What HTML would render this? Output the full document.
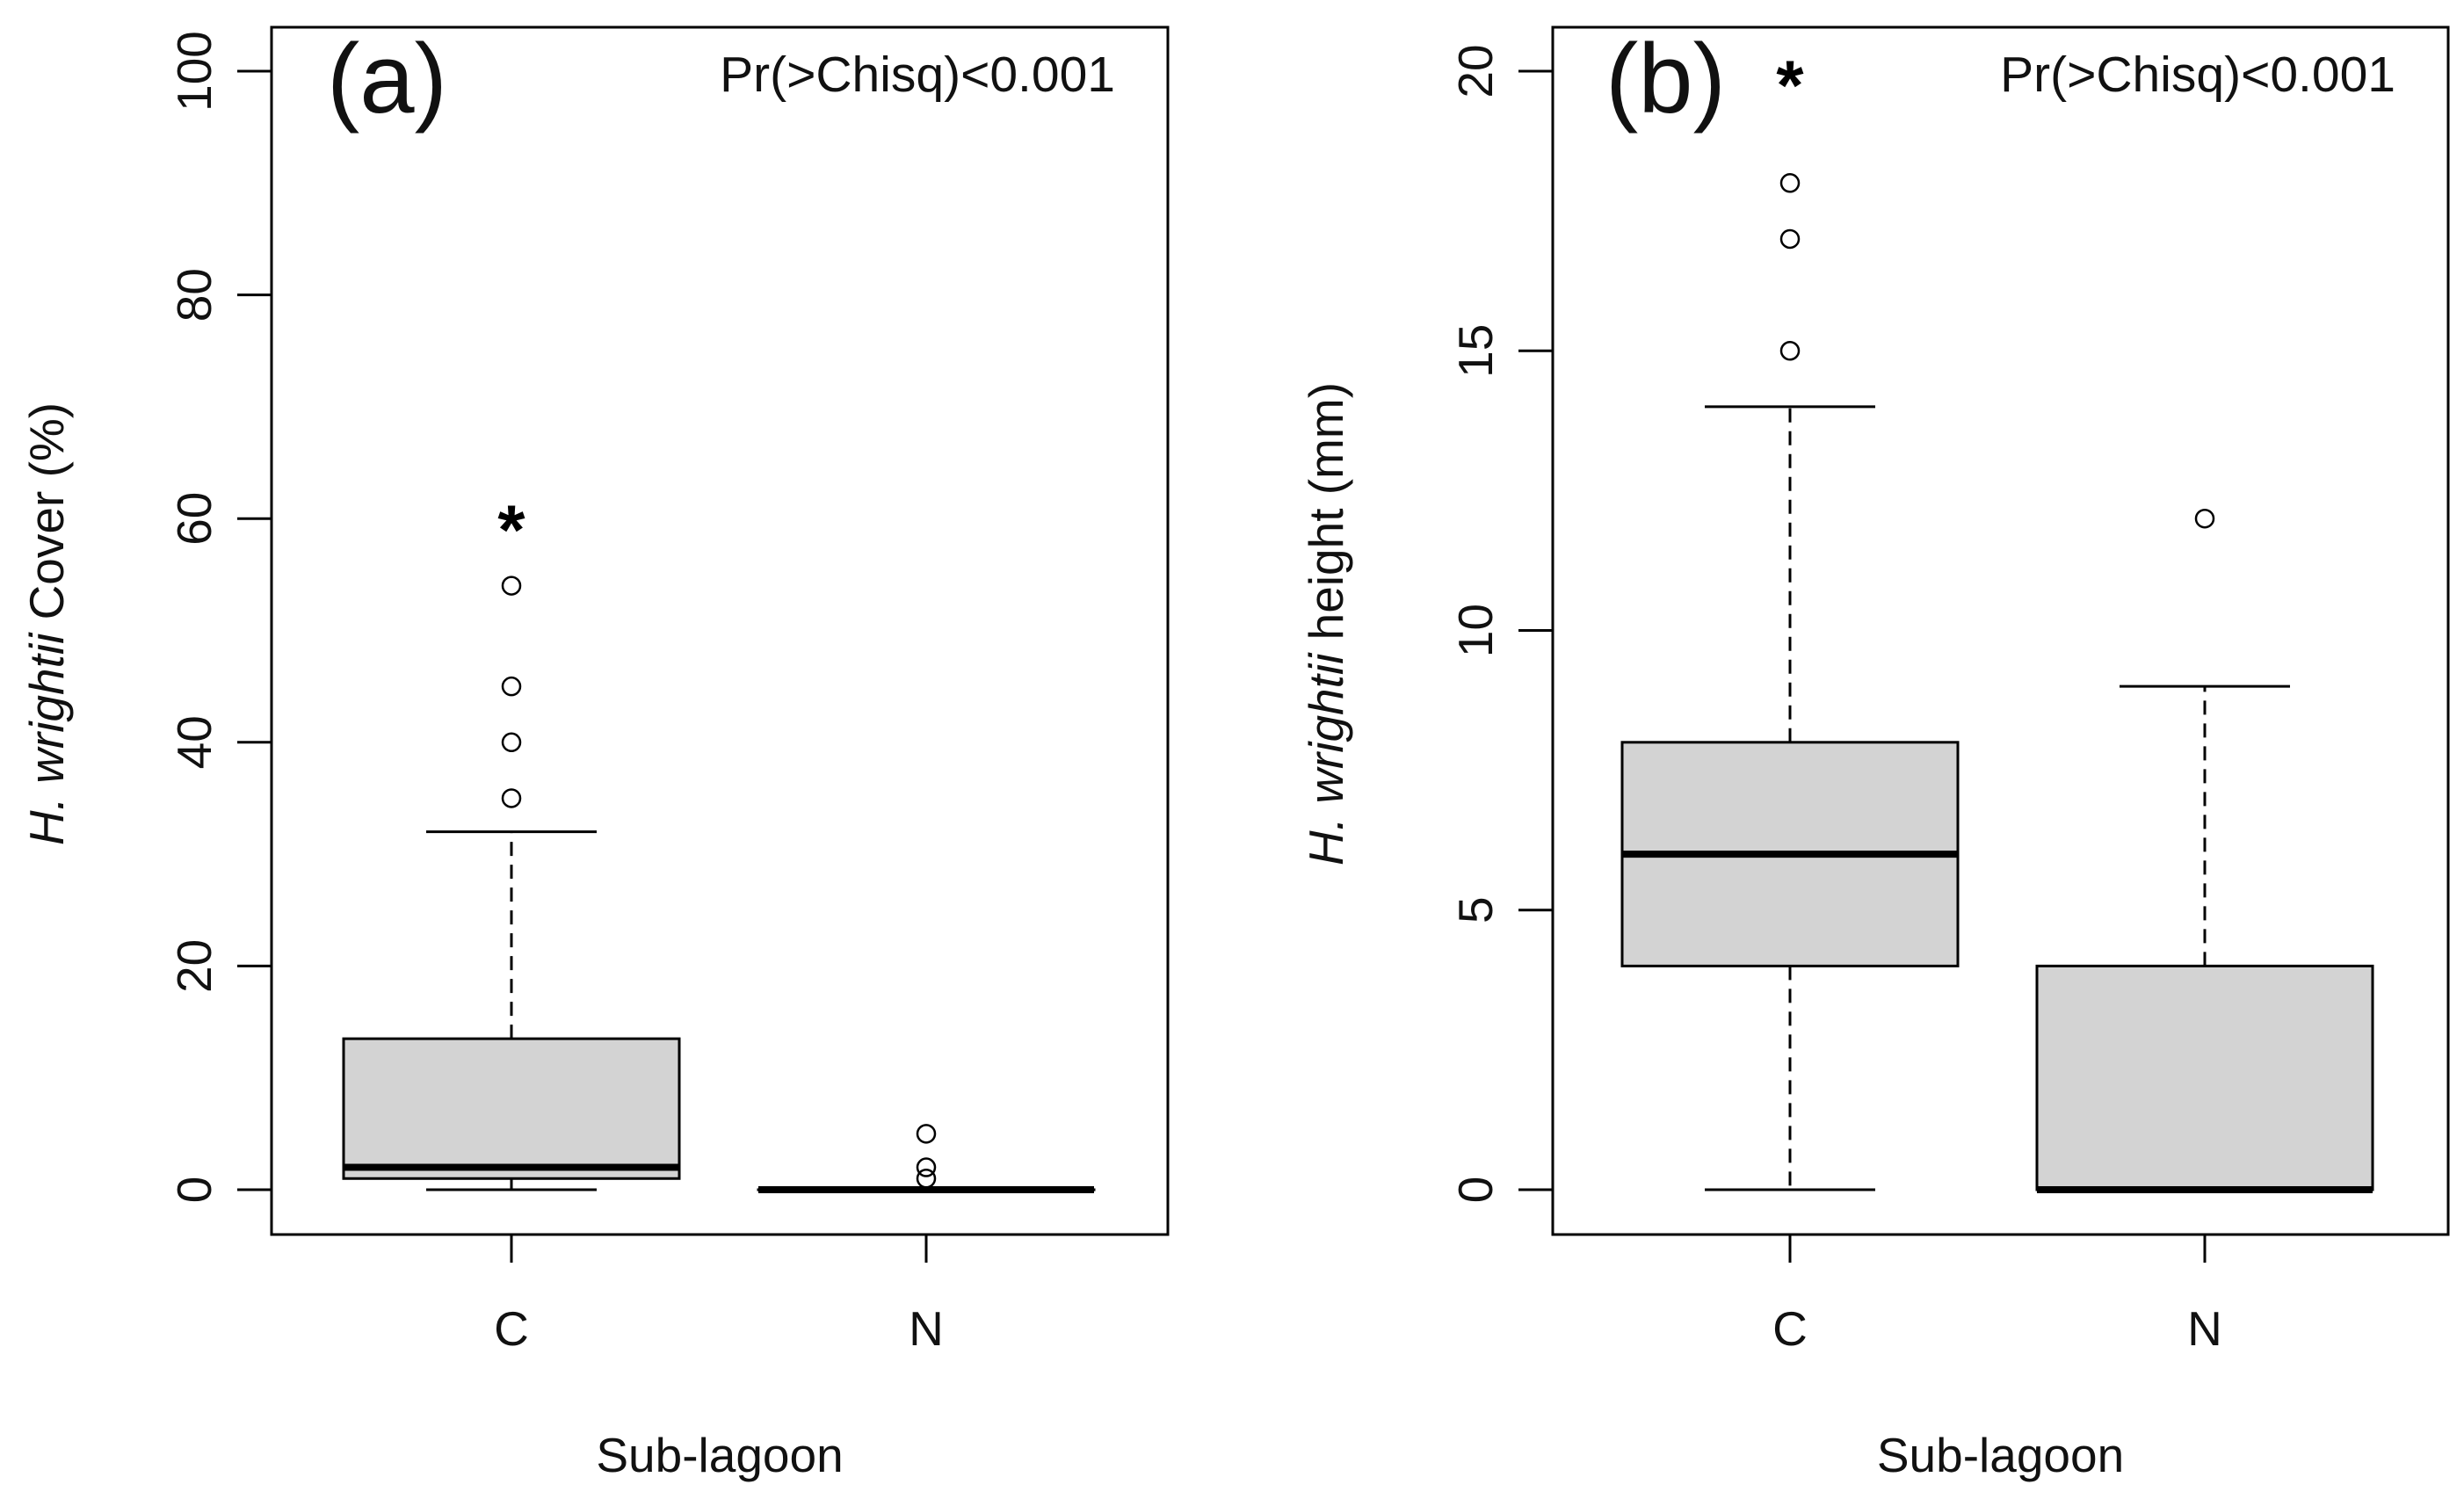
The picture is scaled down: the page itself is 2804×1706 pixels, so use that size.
<!DOCTYPE html>
<html><head><meta charset="utf-8"><style>
html,body{margin:0;padding:0;background:#fff;}
svg{display:block;font-family:"Liberation Sans",Arial,sans-serif;}
</style></head><body>
<svg id="chart" width="2804" height="1706" viewBox="0 0 2804 1706"></svg>
<script>
const categories = ["C","N"];
// panel a: cover (%)
const aQ1 = [1, 0], aMed = [2, 0], aQ3 = [13.5, 0], aLo = [0, 0], aHi = [32, 0];
const aOutC = [35, 40, 45, 54], aOutN = [1, 2, 5];
const aStar = 59.5;
const aTicks = [0, 20, 40, 60, 80, 100];
// panel b: height (mm)
const bQ1 = [4, 0], bMed = [6, 0], bQ3 = [8, 4], bLo = [0, 0], bHi = [14, 9];
const bOutC = [15, 17, 18], bOutN = [12];
const bStar = 19.85;
const bTicks = [0, 5, 10, 15, 20];

const NS = "http://www.w3.org/2000/svg";
const svg = document.getElementById("chart");
function mk(tag, attrs, parent){const e=document.createElementNS(NS,tag);for(const k in attrs)e.setAttribute(k,attrs[k]);(parent||svg).appendChild(e);return e;}

function panel(p){
  const g = mk("g",{});
  
  
  const y = v => p.y0 + (v - p.vmin) / (p.vmax - p.vmin) * (p.y1 - p.y0);
  const x = i => p.xs[0] + i * (p.xs[1] - p.xs[0]);
  const fr = mk("rect",{x:p.fx0,y:31,width:p.fx1-p.fx0,height:1374,fill:"none",stroke:"#000","stroke-width":3},g);
  
  
  p.ticks.forEach(t=>{
    const tl = mk("line",{x1:p.fx0-39,x2:p.fx0,y1:y(t),y2:y(t),stroke:"#000","stroke-width":3},g);
    
    
    const tx = mk("text",{x:p.fx0-88,y:y(t),"font-size":55,"text-anchor":"middle",transform:`rotate(-90 ${p.fx0-88} ${y(t)})`,"dominant-baseline":"central",fill:"#111"},g);
    tx.textContent = t;
    
    
  });
  const yt = mk("text",{x:0,y:0,"font-size":55,"text-anchor":"middle",transform:`translate(${p.ytx},${710}) rotate(-90)`,fill:"#111"},g);
  yt.innerHTML = `<tspan font-style="italic">H. wrightii</tspan> ${p.ytitle}`;
  
  
  const xt = mk("text",{x:(p.fx0+p.fx1)/2,y:1675,"font-size":55,"text-anchor":"middle",fill:"#111"},g);
  xt.textContent = "Sub-lagoon";
  
  
  categories.forEach((c,i)=>{
    const cx = x(i);
    const tk = mk("line",{x1:cx,x2:cx,y1:1405,y2:1437,stroke:"#000","stroke-width":3},g);
    
    
    const tl = mk("text",{x:cx,y:1531,"font-size":55,"text-anchor":"middle",fill:"#111"},g);
    tl.textContent = c;
    
    
    const bg = mk("g",{},g);
    
    
    const q1=p.q1[i], q3=p.q3[i], md=p.med[i], lo=p.lo[i], hi=p.hi[i];
    if (hi>q3) mk("line",{x1:cx,x2:cx,y1:y(q3),y2:y(hi),stroke:"#000","stroke-width":3,"stroke-dasharray":"16,10"},bg);
    if (lo<q1) mk("line",{x1:cx,x2:cx,y1:y(q1),y2:y(lo),stroke:"#000","stroke-width":3,"stroke-dasharray":"16,10"},bg);
    if (hi>q3) mk("line",{x1:cx-97,x2:cx+97,y1:y(hi),y2:y(hi),stroke:"#000","stroke-width":3},bg);
    if (lo<q1) mk("line",{x1:cx-97,x2:cx+97,y1:y(lo),y2:y(lo),stroke:"#000","stroke-width":3},bg);
    const top=y(q3), bot=y(q1);
    mk("rect",{x:cx-191,y:top,width:382,height:Math.max(bot-top,0.1),fill:"#d3d3d3",stroke:"#000","stroke-width":3},bg);
    mk("line",{x1:cx-191,x2:cx+191,y1:y(md),y2:y(md),stroke:"#000","stroke-width":8},bg);
    p.outs[i].forEach(v=>{
      const o = mk("circle",{cx:cx,cy:y(v),r:10,fill:"none",stroke:"#000","stroke-width":2.5},bg);
      
      
    });
  });
  const st = mk("text",{x:x(0),y:y(p.star)+34,"font-size":80,"font-weight":"bold","text-anchor":"middle",fill:"#000"},g);
  st.textContent = "*";
  
  
  const lab = mk("text",{x:p.labx,y:128,"font-size":112,fill:"#111"},g);
  lab.textContent = p.label;
  
  
  const pv = mk("text",{x:p.fx1-60,y:104,"font-size":57,"text-anchor":"end",fill:"#111"},g);
  pv.textContent = "Pr(>Chisq)<0.001";
  
  
}
panel({name:"panel-a-cover",fx0:309,fx1:1329,xs:[582,1054],y0:1354,y1:81,vmin:0,vmax:100,ticks:aTicks,
  q1:aQ1,med:aMed,q3:aQ3,lo:aLo,hi:aHi,outs:[aOutC,aOutN],star:aStar,label:"(a)",labx:372,ytx:72,ytitle:"Cover (%)"});
panel({name:"panel-b-height",fx0:1767,fx1:2786,xs:[2037,2509],y0:1354,y1:81,vmin:0,vmax:20,ticks:bTicks,
  q1:bQ1,med:bMed,q3:bQ3,lo:bLo,hi:bHi,outs:[bOutC,bOutN],star:bStar,label:"(b)",labx:1827,ytx:1528,ytitle:"height (mm)"});
</script>
</body></html>
